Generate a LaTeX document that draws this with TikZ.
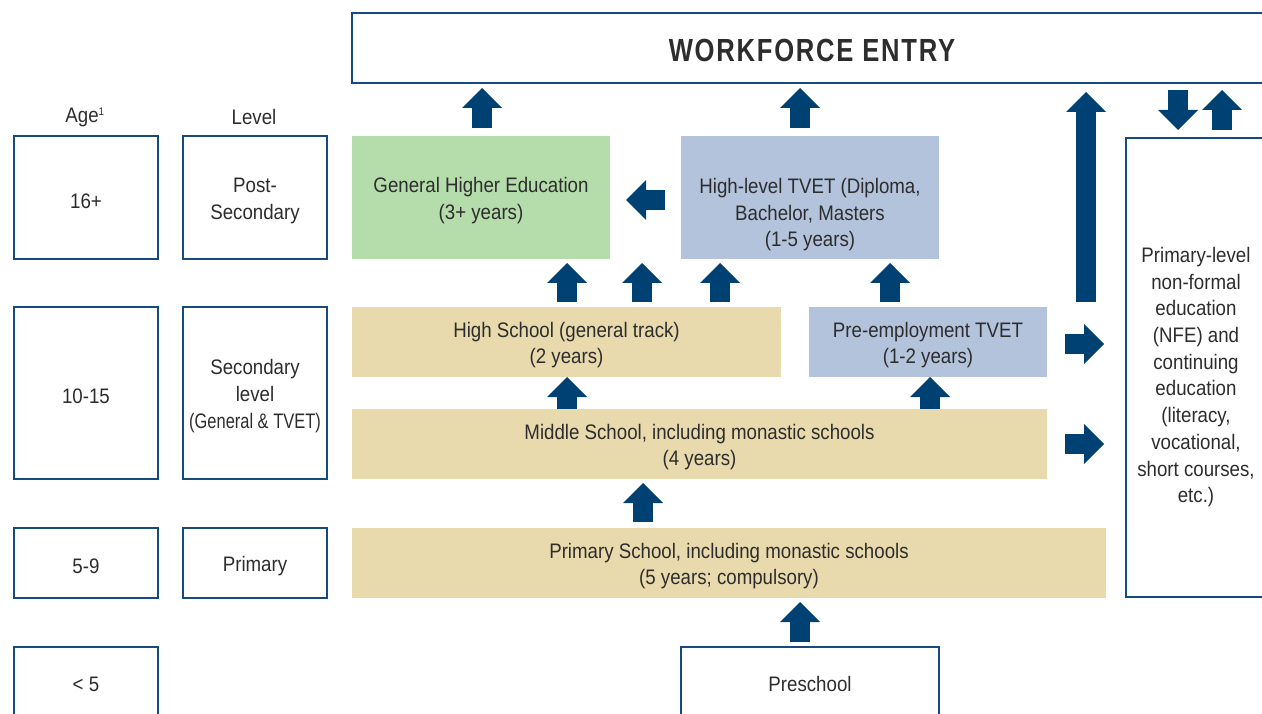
\documentclass[tikz,border=0pt]{standalone}
\usepackage{fontspec}
\setmainfont{Liberation Sans}[FakeStretch=0.89]
\newfontfamily\wffont{Liberation Sans}[FakeStretch=0.8,LetterSpace=5.5]
\usepackage{graphicx}
\usetikzlibrary{arrows.meta}
\definecolor{arrowblue}{RGB}{0,65,115}
\definecolor{edgeblue}{RGB}{22,75,125}
\definecolor{greenfill}{RGB}{181,220,171}
\definecolor{bluefill}{RGB}{180,195,220}
\definecolor{tanfill}{RGB}{232,218,173}
\definecolor{textgrey}{RGB}{45,45,45}
\newcommand{\topgap}{\rule{0pt}{21.5pt}}
\begin{document}
\begin{tikzpicture}[x=1pt,y=-1pt,
  every node/.style={font=\fontsize{21}{26.7}\selectfont, text=textgrey, inner sep=0pt, outer sep=0pt, align=center,
    execute at begin node={\topgap}},
  framebox/.style={draw=edgeblue, line width=2.6pt, fill=white, anchor=north west},
  fillbox/.style={anchor=north west, draw=none},
  barrow/.style={draw=arrowblue, line width=20pt, -{Triangle[width=40pt,length=20pt,line width=0pt]}},
]
\useasboundingbox (0,0) rectangle (1262,714);
\clip (0,0) rectangle (1262,714);

% headers
\node (ageh) at (85,114) {Age\textsuperscript{\fontsize{11}{11}\selectfont 1}};
\node (lvlh) at (254,114) {Level};

% workforce
\node[framebox, minimum width=920pt, minimum height=70pt] (wf) at (352,13)
  {\wffont\fontsize{32}{32}\selectfont\bfseries\rule{0pt}{28pt}WORKFORCE ENTRY};

% age column
\node[framebox, minimum width=144pt, minimum height=123pt] (a16) at (14,136) {16+};
\node[framebox, minimum width=144pt, minimum height=172pt] (a1015) at (14,307) {10-15};
\node[framebox, minimum width=144pt, minimum height=70pt] (a59) at (14,528) {5-9};
\node[framebox, minimum width=144pt, minimum height=68pt] (a5) at (14,647) {< 5};

% level column
\node[framebox, minimum width=144pt, minimum height=123pt] (lps) at (183,136) {\topgap Post-\\Secondary};
\node[framebox, minimum width=144pt, minimum height=172pt] (lsec) at (183,307)
  {\topgap Secondary\\level\\\scalebox{0.88}[1]{(General \& TVET)}};
\node[framebox, minimum width=144pt, minimum height=70pt] (lpri) at (183,528) {Primary};

% programmes
\node[fillbox, fill=greenfill, minimum width=258pt, minimum height=123pt] (ghe) at (352,136)
  {\topgap General Higher Education\\(3+ years)};
\node[fillbox, fill=bluefill, minimum width=258pt, minimum height=123pt] (tvet) at (681,136)
  {\rule{0pt}{49.5pt}High-level TVET (Diploma,\\Bachelor, Masters\\(1-5 years)};
\node[fillbox, fill=tanfill, minimum width=429pt, minimum height=70pt] (hs) at (352,307)
  {\topgap High School (general track)\\(2 years)};
\node[fillbox, fill=bluefill, minimum width=238pt, minimum height=70pt] (pre) at (809,307)
  {\topgap Pre-employment TVET\\(1-2 years)};
\node[fillbox, fill=tanfill, minimum width=695pt, minimum height=70pt] (ms) at (352,409)
  {\topgap Middle School, including monastic schools\\(4 years)};
\node[fillbox, fill=tanfill, minimum width=754pt, minimum height=70pt] (ps) at (352,528)
  {\topgap Primary School, including monastic schools\\(5 years; compulsory)};
\node[framebox, minimum width=258pt, minimum height=68pt] (presch) at (681,647) {Preschool};

% non-formal education
\node[framebox, minimum width=140pt, minimum height=459pt] (nfe) at (1126,138) {};
\node (nfetext) at (1196,374) {\topgap Primary-level\\non-formal\\education\\(NFE) and\\continuing\\education\\(literacy,\\vocational,\\short courses,\\etc.)};

% arrow columns / rows
\coordinate (x482) at (482,0);
\coordinate (x800) at (800,0);
\coordinate (x567) at (567,0);
\coordinate (x642) at (642,0);
\coordinate (x720) at (720,0);
\coordinate (x890) at (890,0);
\coordinate (x930) at (930,0);
\coordinate (x643) at (643,0);
\coordinate (x1178) at (1178,0);
\coordinate (x1222) at (1222,0);
\coordinate (y200) at (0,200);
\coordinate (y344) at (0,344);
\coordinate (y444) at (0,444);
\coordinate (nfeup) at (1086,302);

% arrows
\draw[barrow, shorten <=8pt, shorten >=5pt] (ghe.north -| x482) -- (wf.south -| x482);
\draw[barrow, shorten <=8pt, shorten >=5pt] (tvet.north -| x800) -- (wf.south -| x800);
\draw[barrow, shorten <=16pt, shorten >=16pt] (tvet.west |- y200) -- (ghe.east |- y200);
\draw[barrow, shorten <=5pt, shorten >=4pt] (hs.north -| x567) -- (ghe.south -| x567);
\draw[barrow, shorten <=5pt, shorten >=4pt] (hs.north -| x642) -- (ghe.south -| x642);
\draw[barrow, shorten <=5pt, shorten >=4pt] (hs.north -| x720) -- (tvet.south -| x720);
\draw[barrow, shorten <=5pt, shorten >=4pt] (pre.north -| x890) -- (tvet.south -| x890);
\draw[barrow] (ms.north -| x567) -- (hs.south -| x567);
\draw[barrow] (ms.north -| x930) -- (pre.south -| x930);
\draw[barrow, shorten <=6pt, shorten >=4pt] (ps.north -| x643) -- (ms.south -| x643);
\draw[barrow, shorten <=5pt, shorten >=4pt] (presch.north -| x800) -- (ps.south -| x800);
\draw[barrow, shorten <=18pt, shorten >=22pt] (pre.east |- y344) -- (nfe.west |- y344);
\draw[barrow, shorten <=18pt, shorten >=22pt] (ms.east |- y444) -- (nfe.west |- y444);
\draw[barrow, shorten >=9pt] (nfeup) -- (wf.south -| nfeup);
\draw[barrow, shorten <=7pt, shorten >=8pt] (wf.south -| x1178) -- (nfe.north -| x1178);
\draw[barrow, shorten <=8pt, shorten >=7pt] (nfe.north -| x1222) -- (wf.south -| x1222);
\end{tikzpicture}
\end{document}
